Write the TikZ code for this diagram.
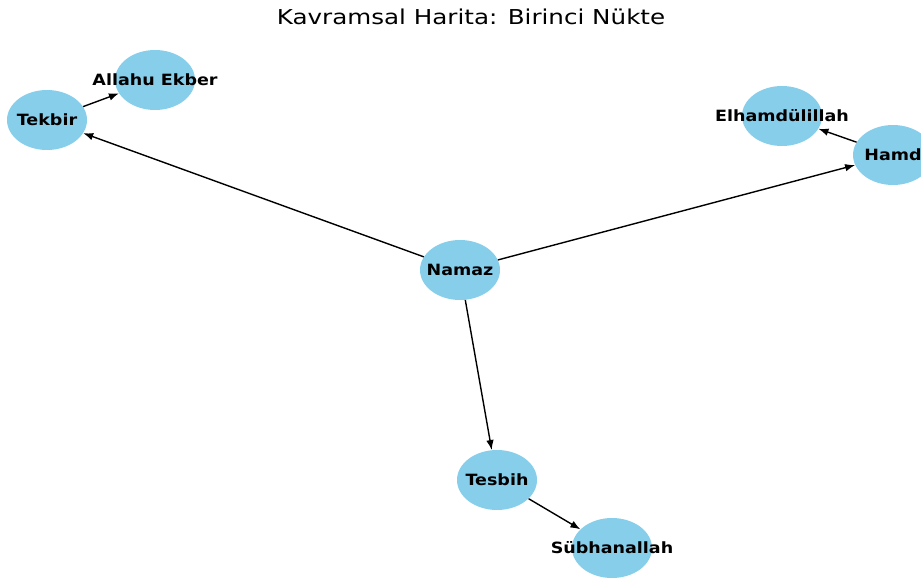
\documentclass[tikz,border=0pt]{standalone}
\usepackage{fontspec}
\setmainfont{DejaVu Sans}
\usepackage{graphicx}
\usetikzlibrary{arrows.meta,shapes.geometric}
\definecolor{skyblue}{HTML}{87CEEB}
\newcommand{\nodetext}[1]{\makebox[0pt]{\scalebox{1.13}[1]{#1}}}
\begin{document}
\begin{tikzpicture}[x=1bp,y=-1bp,>={Latex[length=10bp,width=7.5bp]},
  concept/.style={ellipse,fill=skyblue,minimum width=80bp,minimum height=60bp,inner sep=0pt,font=\fontsize{15.5bp}{18bp}\selectfont\bfseries},
  link/.style={->,line width=1.4bp}]
\useasboundingbox (0,0) rectangle (921,579);
\node[font=\fontsize{20.5bp}{24bp}\selectfont] (title) at (471,17) {\scalebox{1.2}[1]{Kavramsal Harita: Birinci Nükte}};
\node[concept] (namaz) at (460,270) {\nodetext{Namaz}};
\node[concept] (tekbir) at (47,120) {\nodetext{Tekbir}};
\node[concept] (ekber) at (155,80) {\nodetext{Allahu Ekber}};
\node[concept] (hamd) at (893,155) {\nodetext{Hamd}};
\node[concept] (elhamd) at (782,116) {\nodetext{Elhamdülillah}};
\node[concept] (tesbih) at (497,480) {\nodetext{Tesbih}};
\node[concept] (subhan) at (612,548) {\nodetext{Sübhanallah}};
\draw[link] (namaz)--(tekbir);
\draw[link] (namaz)--(hamd);
\draw[link] (namaz)--(tesbih);
\draw[link] (tekbir)--(ekber);
\draw[link] (hamd)--(elhamd);
\draw[link] (tesbih)--(subhan);
\end{tikzpicture}
\end{document}
